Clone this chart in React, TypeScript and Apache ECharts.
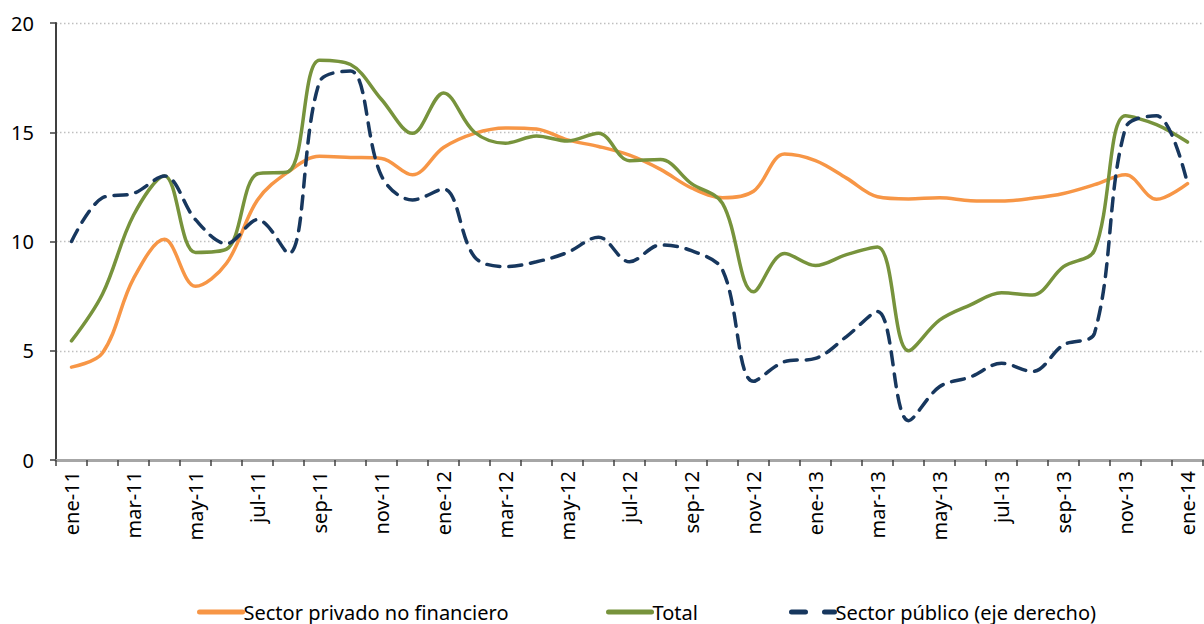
import React, { useEffect, useRef } from "react";
import * as echarts from "echarts";

const categories = [
  "ene-11","feb-11","mar-11","abr-11","may-11","jun-11","jul-11","ago-11","sep-11","oct-11","nov-11","dic-11",
  "ene-12","feb-12","mar-12","abr-12","may-12","jun-12","jul-12","ago-12","sep-12","oct-12","nov-12","dic-12",
  "ene-13","feb-13","mar-13","abr-13","may-13","jun-13","jul-13","ago-13","sep-13","oct-13","nov-13","dic-13",
  "ene-14",
];

const privado = [
  4.25, 4.9, 8.3, 10.1, 7.95, 9.0, 11.9, 13.2, 13.9, 13.85, 13.8, 13.05,
  14.3, 14.95, 15.2, 15.15, 14.65, 14.35, 13.95, 13.3, 12.45, 12.0, 12.3, 14.0,
  13.7, 12.9, 12.05, 11.95, 12.0, 11.87, 11.85, 11.98, 12.2, 12.6, 13.05, 11.93,
  12.65,
];

const total = [
  5.45, 7.6, 11.2, 13.0, 9.5, 9.65, 13.1, 13.2, 18.3, 18.1, 16.5, 14.95,
  16.8, 15.0, 14.5, 14.83, 14.6, 14.95, 13.7, 13.75, 12.65, 11.75, 7.7, 9.45,
  8.9, 9.4, 9.75, 5.0, 6.4, 7.1, 7.65, 7.55, 8.85, 9.6, 15.75, 15.35,
  14.55,
];

const publico = [
  10.0, 12.0, 12.2, 13.0, 11.0, 9.9, 11.0, 9.45, 17.3, 17.8, 13.0, 11.9,
  12.4, 9.3, 8.85, 9.07, 9.5, 10.2, 9.07, 9.84, 9.58, 8.7, 3.6, 4.5,
  4.65, 5.65, 6.8, 1.8, 3.35, 3.8, 4.43, 4.05, 5.27, 5.8, 15.2, 15.75,
  12.65,
];

const seriesNames = ["Sector privado no financiero", "Total", "Sector público (eje derecho)"];
const FONT = "'Noto Sans', 'Open Sans', sans-serif";

const legendText = { fontSize: 20, color: "#000", fontFamily: FONT, padding: [0, 0, 0, -4] };

export default function App() {
  const ref = useRef<HTMLDivElement>(null);
  useEffect(() => {
    if (!ref.current) return;
    const chart = echarts.init(ref.current, undefined, { renderer: "svg" });
    chart.setOption({
      animation: false,
      backgroundColor: "#ffffff",
      textStyle: { fontFamily: FONT },
      grid: { left: 56, right: 1, top: 23, bottom: 164, containLabel: false },
      legend: [
        {
          data: [seriesNames[0]], left: 192, top: 597, itemWidth: 43, itemHeight: 14, itemGap: 0,
          itemStyle: { opacity: 0 },
          lineStyle: { width: 5, cap: "round" },
          textStyle: legendText,
        },
        {
          data: [seriesNames[1]], left: 601, top: 597, itemWidth: 43, itemHeight: 14, itemGap: 0,
          itemStyle: { opacity: 0 },
          lineStyle: { width: 5, cap: "round" },
          textStyle: legendText,
        },
        {
          data: [seriesNames[2]], left: 784, top: 597, itemWidth: 43, itemHeight: 14, itemGap: 0,
          itemStyle: { opacity: 0 },
          lineStyle: { width: 5, cap: "round", type: [14, 19] },
          textStyle: legendText,
        },
      ],
      xAxis: [
        {
          type: "category",
          data: categories,
          boundaryGap: true,
          axisLine: { lineStyle: { color: "#404040", width: 2 } },
          axisTick: { show: true, interval: 0, length: 6, lineStyle: { color: "#404040", width: 1.5 } },
          axisLabel: {
            interval: 1, rotate: 90, fontSize: 20, color: "#000", margin: 11, fontFamily: FONT,
          },
        },
        {
          type: "category",
          data: categories,
          position: "top",
          boundaryGap: true,
          axisLine: { show: true, lineStyle: { color: "#A6A6A6", width: 3 } },
          axisTick: { show: false },
          axisLabel: { show: false },
        },
      ],
      yAxis: [
        {
          type: "value",
          min: 0, max: 20, interval: 5,
          axisLine: { show: true, lineStyle: { color: "#404040", width: 2 } },
          axisTick: { show: true, length: 6, lineStyle: { color: "#404040", width: 1.5 } },
          axisLabel: { fontSize: 20, color: "#000", margin: 22, fontFamily: FONT },
          splitLine: { show: true, lineStyle: { color: "#BFBFBF", type: [1.5, 2.5], width: 1.3 } },
        },
        {
          type: "value",
          min: 0, max: 20, interval: 5,
          show: false,
        },
      ],
      graphic: [
        {
          type: "text", left: 733, top: -22,
          style: { text: "(%)", fontSize: 20, fill: "#404040", fontFamily: FONT },
        },
      ],
      series: [
        {
          name: seriesNames[0], type: "line", data: privado, smooth: 0.35, symbol: "none",
          lineStyle: { color: "#F79646", width: 3.5, cap: "round" }, itemStyle: { color: "#F79646" },
        },
        {
          name: seriesNames[1], type: "line", data: total, smooth: 0.35, symbol: "none",
          lineStyle: { color: "#77933C", width: 3.5, cap: "round" }, itemStyle: { color: "#77933C" },
        },
        {
          name: seriesNames[2], type: "line", data: publico, smooth: 0.35, symbol: "none",
          yAxisIndex: 1,
          lineStyle: { color: "#17375E", width: 3.5, type: [13, 9], cap: "round" },
          itemStyle: { color: "#17375E" },
        },
      ],
    });
    return () => chart.dispose();
  }, []);
  return (
    <div
      ref={ref}
      style={{ position: "absolute", left: 0, top: 0, width: 1204, height: 624 }}
    />
  );
}
